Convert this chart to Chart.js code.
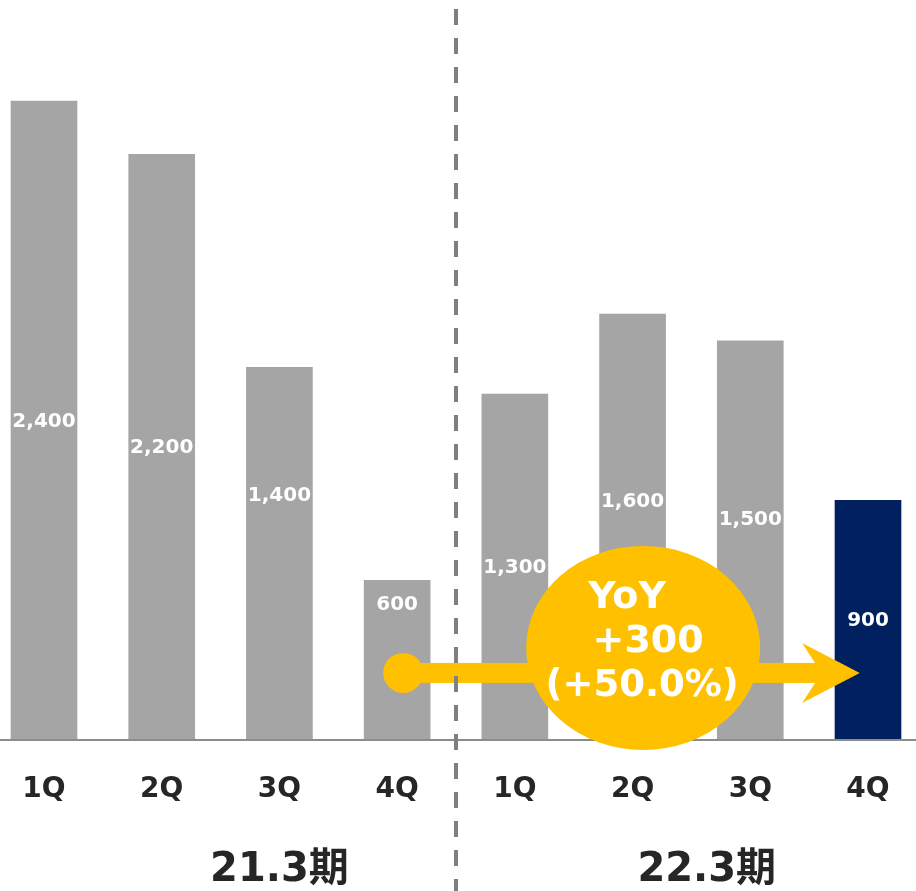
<!DOCTYPE html>
<html>
<head>
<meta charset="utf-8">
<script src="https://cdn.jsdelivr.net/npm/chart.js@4/dist/chart.umd.min.js"></script>
<style>
  body { margin: 0; background: #fff; }
  canvas { display: block; }
</style>
</head>
<body>
<canvas id="chart" width="916" height="891"></canvas>
<script>
const quarters = ['1Q', '2Q', '3Q', '4Q', '1Q', '2Q', '3Q', '4Q'];
const sales = [2400, 2200, 1400, 600, 1300, 1600, 1500, 900];
const periods = ['21.3期', '22.3期'];
const yoyText = ['YoY', '+300', '(+50.0%)'];
// where each value label sits (in data units)
const labelAnchor = [1194, 1097, 916, 507, 646, 894, 826, 447];

const gray = '#A5A5A5';
const navy = '#002060';
const yellow = '#FFC000';
const font = '"DejaVu Sans", Verdana, "Noto Sans CJK JP", sans-serif';

const overlay = {
    id: 'overlay',
    afterDatasetsDraw(chart) {
        const ctx = chart.ctx;
        const x = chart.scales.x;
        const y = chart.scales.y;
        const base = y.getPixelForValue(0);

        ctx.save();
        // baseline across the whole width
        ctx.strokeStyle = '#8C8C8C';
        ctx.lineWidth = 2;
        ctx.beginPath();
        ctx.moveTo(0, base);
        ctx.lineTo(chart.width, base);
        ctx.stroke();

        // value labels
        ctx.fillStyle = '#fff';
        ctx.font = 'bold 20px ' + font;
        ctx.textAlign = 'center';
        ctx.textBaseline = 'middle';
        sales.forEach((v, i) => {
            ctx.fillText(v.toLocaleString('en-US'), x.getPixelForValue(i), y.getPixelForValue(labelAnchor[i]));
        });

        // quarter labels
        ctx.fillStyle = '#262626';
        ctx.font = 'bold 28px ' + font;
        quarters.forEach((q, i) => {
            ctx.fillText(q, x.getPixelForValue(i), base + 50);
        });

        // period labels
        ctx.font = 'bold 40px ' + font;
        ctx.fillText(periods[0], x.getPixelForValue(2), base + 131);
        ctx.fillText(periods[1], x.getPixelForValue(5.63), base + 131);

        // arrow
        const ay = y.getPixelForValue(252);
        const ax0 = x.getPixelForValue(3) + 6;
        const tip = x.getPixelForValue(6.93);
        const back = x.getPixelForValue(6.44);
        ctx.fillStyle = yellow;
        ctx.beginPath();
        ctx.arc(ax0, ay, 20, 0, Math.PI * 2);
        ctx.fill();
        ctx.fillRect(ax0, ay - 10, back + 14 - ax0, 20);
        ctx.beginPath();
        ctx.moveTo(back, ay - 30);
        ctx.lineTo(tip, ay);
        ctx.lineTo(back, ay + 30);
        ctx.lineTo(back + 13, ay + 10);
        ctx.lineTo(back + 13, ay - 10);
        ctx.closePath();
        ctx.fill();

        // YoY bubble
        const ex = x.getPixelForValue(5.09);
        const ey = y.getPixelForValue(346);
        ctx.beginPath();
        ctx.ellipse(ex, ey, 117, 102, 0, 0, Math.PI * 2);
        ctx.fill();
        ctx.fillStyle = '#fff';
        ctx.font = 'bold 38px ' + font;
        ctx.fillText(yoyText[0], ex - 16, ey - 50);
        ctx.fillText(yoyText[1], ex + 5, ey - 6);
        ctx.font = 'bold 37px ' + font;
        ctx.fillText(yoyText[2], ex - 1, ey + 38);

        // dashed divider
        const dx = x.getPixelForValue(3.5);
        ctx.strokeStyle = '#7F7F7F';
        ctx.lineWidth = 4;
        ctx.setLineDash([16, 13]);
        ctx.beginPath();
        ctx.moveTo(dx, 9);
        ctx.lineTo(dx, chart.height);
        ctx.stroke();
        ctx.restore();
    }
};

const chart = new Chart(document.getElementById('chart').getContext('2d'), {
    type: 'bar',
    data: {
        labels: quarters,
        datasets: [{
            data: sales,
            backgroundColor: sales.map((v, i) => i === sales.length - 1 ? navy : gray),
            barThickness: 66,
            clip: false
        }]
    },
    options: {
        responsive: false,
        animation: false,
        layout: { padding: { left: 44, right: 48, top: 0, bottom: 151 } },
        scales: {
            x: { display: false, offset: false },
            y: { display: false, min: 0, max: 2780 }
        },
        plugins: {
            legend: { display: false },
            tooltip: { enabled: false }
        }
    },
    plugins: [overlay]
});
</script>
</body>
</html>
